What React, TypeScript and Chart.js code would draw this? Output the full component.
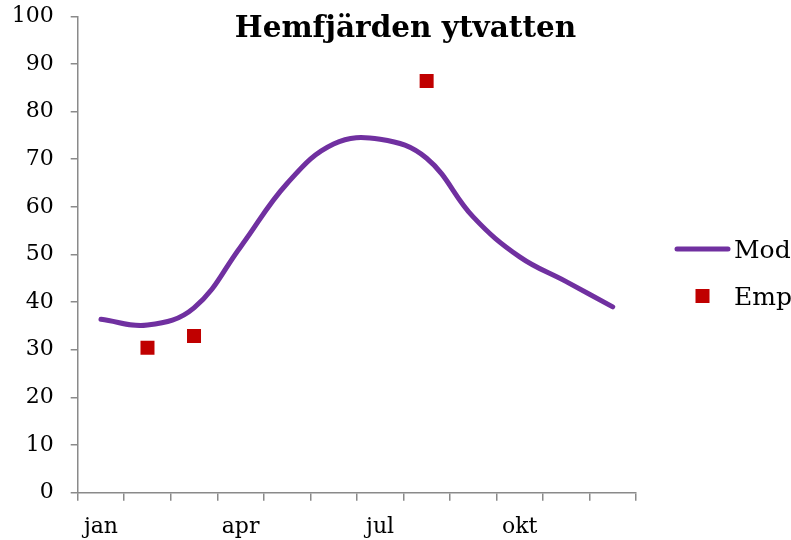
import React, { useEffect, useRef } from 'react';
import { Chart, registerables } from 'chart.js';

Chart.register(...registerables);

// ---- Data ----
const months = ['jan', 'feb', 'mar', 'apr', 'maj', 'jun', 'jul', 'aug', 'sep', 'okt', 'nov', 'dec'];
const shownMonthLabels = ['jan', 'apr', 'jul', 'okt'];
const modValues = [36.4, 35.2, 38.8, 51.6, 64.9, 73.2, 74.2, 70.2, 57.9, 49.5, 44.3, 39.0];
const empValues: (number | null)[] = [null, 30.4, 32.9, null, null, null, null, 86.4, null, null, null, null];
const yMin = 0;
const yMax = 100;
const yStep = 10;
const chartTitle = 'Hemfjärden ytvatten';
const seriesNames = ['Mod', 'Emp'];

const MOD_COLOR = '#7030A0';
const EMP_COLOR = '#C00000';
const AXIS_COLOR = '#8a8a8a';
const FONT = '"DejaVu Serif", Georgia, serif';

const titlePlugin = {
  id: 'customTitle',
  afterDraw(chart: any) {
    const ctx = chart.ctx;
    ctx.save();
    ctx.font = `bold 29.5px ${FONT}`;
    ctx.fillStyle = '#000';
    ctx.textAlign = 'center';
    ctx.textBaseline = 'alphabetic';
    ctx.fillText(chartTitle, chart.width / 2 + 10, 37);
    ctx.restore();
  },
};

const legendPlugin = {
  id: 'customLegend',
  afterDraw(chart: any) {
    const ctx = chart.ctx;
    const left = chart.chartArea.right + 39;
    const symCenter = left + 27.5;
    const textX = left + 59;
    const y1 = 249;
    const y2 = 296;
    ctx.save();
    // Mod line
    ctx.strokeStyle = MOD_COLOR;
    ctx.lineWidth = 5;
    ctx.lineCap = 'round';
    ctx.beginPath();
    ctx.moveTo(left + 2, y1);
    ctx.lineTo(left + 53, y1);
    ctx.stroke();
    // Emp square
    ctx.fillStyle = EMP_COLOR;
    ctx.fillRect(symCenter - 7, y2 - 7, 14, 14);
    ctx.fillStyle = '#000';
    ctx.font = `25px ${FONT}`;
    ctx.textAlign = 'left';
    ctx.textBaseline = 'alphabetic';
    ctx.fillText(seriesNames[0], textX, y1 + 9);
    ctx.fillText(seriesNames[1], textX, y2 + 8.5);
    ctx.restore();
  },
};

export default function App() {
  const canvasRef = useRef<HTMLCanvasElement | null>(null);

  useEffect(() => {
    if (!canvasRef.current) return;
    const chart = new Chart(canvasRef.current, {
      type: 'line',
      data: {
        labels: months,
        datasets: [
          {
            label: seriesNames[0],
            data: modValues,
            borderColor: MOD_COLOR,
            backgroundColor: MOD_COLOR,
            borderWidth: 5,
            borderCapStyle: 'round',
            tension: 0.4,
            pointRadius: 0,
            fill: false,
          },
          {
            label: seriesNames[1],
            data: empValues,
            showLine: false,
            borderColor: EMP_COLOR,
            backgroundColor: EMP_COLOR,
            pointStyle: 'rect',
            pointRadius: 9.9,
            pointBorderWidth: 0,
            spanGaps: false,
          },
        ],
      },
      options: {
        animation: false,
        responsive: true,
        maintainAspectRatio: false,
        layout: { padding: { top: 16.3, right: 155, bottom: 0, left: 0 } },
        plugins: {
          legend: { display: false },
          title: { display: false },
          tooltip: { enabled: false },
        },
        scales: {
          x: {
            type: 'category',
            offset: true,
            grid: {
              offset: true,
              drawOnChartArea: false,
              drawTicks: true,
              tickLength: 8,
              color: AXIS_COLOR,
              lineWidth: 1.5,
            },
            border: { color: AXIS_COLOR, width: 1.5 },
            ticks: {
              autoSkip: false,
              maxRotation: 0,
              minRotation: 0,
              padding: 13,
              color: '#000',
              font: { family: FONT, size: 22 },
              callback: (_v: any, i: number) => (shownMonthLabels.includes(months[i]) ? months[i] : ''),
            },
            afterFit: (s: any) => {
              s.height = 47.3;
              s.paddingLeft = 0;
              s.paddingRight = 0;
            },
          },
          y: {
            min: yMin,
            max: yMax,
            grid: {
              drawOnChartArea: false,
              drawTicks: true,
              tickLength: 7,
              color: AXIS_COLOR,
              lineWidth: 1.5,
            },
            border: { color: AXIS_COLOR, width: 1.5 },
            ticks: {
              stepSize: yStep,
              padding: 17,
              color: '#000',
              font: { family: FONT, size: 22 },
            },
            afterFit: (s: any) => {
              s.width = 77.7;
              s.paddingTop = 0;
              s.paddingBottom = 0;
            },
          },
        },
      },
      plugins: [titlePlugin, legendPlugin],
    } as any);
    return () => chart.destroy();
  }, []);

  return (
    <div style={{ position: 'fixed', left: 0, top: 0, width: 791, height: 540, background: '#fff' }}>
      <canvas ref={canvasRef} />
    </div>
  );
}
